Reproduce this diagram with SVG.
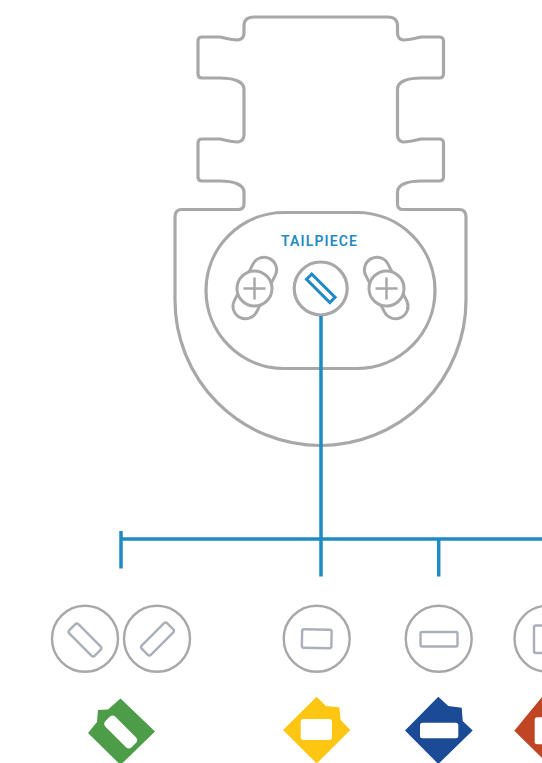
<svg xmlns="http://www.w3.org/2000/svg" width="542" height="763" viewBox="0 0 542 763">
<style>
.o{fill:#fff;stroke:#a8a8aa;stroke-width:3.200}
.t{fill:#fff;stroke:#a8a8aa;stroke-width:3}
.r{fill:#fff;stroke:#a8a8aa;stroke-width:2.400}
.s{fill:none;stroke:#a9b0b9;stroke-width:2.400}
.w{fill:#fff}
.c{fill:none;stroke:#1f8ac3;stroke-width:3.500}
text{font-family:"Roboto","Liberation Sans",sans-serif;font-weight:600;font-size:14px;fill:#1f8ac3;letter-spacing:1.150px}
</style>
<rect width="542" height="763" fill="#fff"/>
<g id="tailpiece">
<path class="o" d="M182 209.500H238Q244 209.500 244 204V192C244 184 232 181 220 181H202Q198 181 198 177V143Q198 139 202 139H220Q232 142 238 142Q244 141 244 135V89C244 81 232 78 220 78H202Q198 78 198 74V41Q198 37 202 37H220Q232 40 238 40Q244 39 244 33V26Q244 17 254 17H388Q397.500 17 397.500 26V33Q397.500 39 403 40Q409 40 421 37H439Q443.500 37 443.500 41V74Q443.500 78 439 78H421C409 78 397.500 81 397.500 89V135Q397.500 141 403 142Q409 142 421 139H439Q443.500 139 443.500 143V177Q443.500 181 439 181H421C409 181 397.500 184 397.500 192V204Q397.500 209.500 403 209.500H459Q466 209.500 466 217V300A145.500 145.500 0 0 1 175 300V217Q175 209.500 182 209.500Z"/>
<rect class="o" x="206" y="212.500" width="229" height="156" rx="78" ry="78"/>
<g id="screw-left">
<rect class="t" x="-33" y="-12.500" width="66" height="25" rx="12.500" transform="translate(254.800 288) rotate(-63)"/>
<circle class="t" cx="254.500" cy="288.500" r="17.500"/>
<path d="M243.500 288.500H265.500M254.500 277.500V299.500" fill="none" stroke="#a8a8aa" stroke-width="2.500"/>
</g>
<g id="screw-right">
<rect class="t" x="-33" y="-12.500" width="66" height="25" rx="12.500" transform="translate(386.200 288) rotate(63)"/>
<circle class="t" cx="386.500" cy="288.500" r="17.500"/>
<path d="M375.500 288.500H397.500M386.500 277.500V299.500" fill="none" stroke="#a8a8aa" stroke-width="2.500"/>
</g>
<g id="screw-center">
<circle class="o" cx="320.700" cy="288.500" r="26.500"/>
<rect x="-16.500" y="-3.700" width="33" height="7.400" fill="#fff" stroke="#1f8ac3" stroke-width="3" transform="translate(320.800 288.300) rotate(45)"/>
</g>
<text x="281" y="245.700">TAILPIECE</text>
</g>
<g id="connectors">
<path class="c" d="M321 316V576.500M121 531V568.500M121 539H542M438.700 539V576.500"/>
</g>
<g id="slot-1">
<circle class="r" cx="85" cy="638.700" r="33"/>
<rect class="s" x="-18" y="-6.500" width="36" height="13" rx="2.500" transform="translate(85 640) rotate(45)"/>
</g>
<g id="slot-2">
<circle class="r" cx="157" cy="638.700" r="33"/>
<rect class="s" x="-18" y="-6.500" width="36" height="13" rx="2.500" transform="translate(157.500 639) rotate(-45)"/>
</g>
<g id="slot-3">
<circle class="r" cx="316.700" cy="638.700" r="33"/>
<rect class="s" x="302" y="629.500" width="29.500" height="18.500" rx="2" transform="rotate(1 316.700 638.700)"/>
</g>
<g id="slot-4">
<circle class="r" cx="438.700" cy="638.700" r="33"/>
<rect class="s" x="420.500" y="632" width="37" height="14.500" rx="1.500"/>
</g>
<g id="slot-5">
<circle class="r" cx="547.500" cy="638.700" r="33"/>
<rect class="s" x="534" y="625.500" width="30" height="27.500" rx="2"/>
</g>
<g id="tag-green">
<polygon points="120.500,698.500 155,731.500 120.500,765 88,733 97,722 98,710 108,709.500" fill="#4d9c47"/>
<rect class="w" x="-18.500" y="-7" width="37" height="14" rx="4" transform="translate(120.700 732) rotate(45)"/>
</g>
<g id="tag-yellow">
<polygon points="316.700,696.700 326,706 339.300,707.300 340.700,720 350.300,730 316.700,763.500 283,730" fill="#fdc613"/>
<rect class="w" x="300.700" y="719" width="31.300" height="21" rx="3"/>
</g>
<g id="tag-blue">
<polygon points="438.300,696.700 448.300,706 461.700,707.700 462.700,721 472.700,730.500 438.300,764 405,730.500" fill="#1b4a97"/>
<rect class="w" x="420" y="722.700" width="38.300" height="15.600" rx="2.500"/>
</g>
<g id="tag-red">
<polygon points="548,697 542,697 514.300,730.700 548,764" fill="#c04524"/>
<rect class="w" x="534.700" y="717.300" width="20" height="27" rx="2.500"/>
</g>
</svg>
